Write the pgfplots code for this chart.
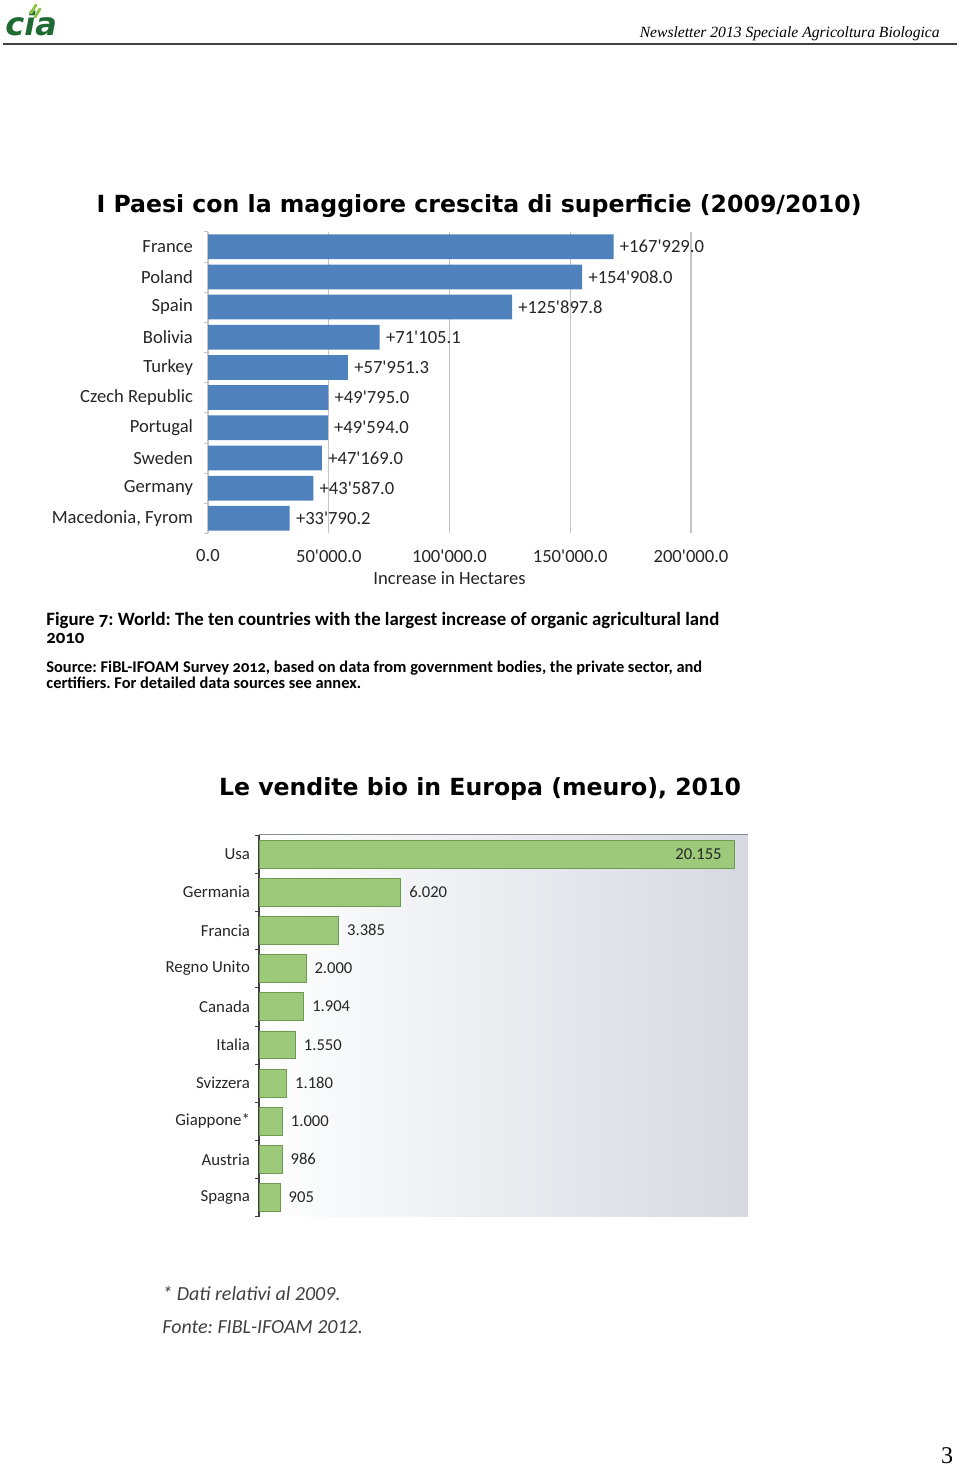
\documentclass[border=0pt]{standalone}
\usepackage{pgfplots}
\pgfplotsset{compat=1.18}
\usepackage{pgfplotstable}
\usepackage{fontspec}
\setmainfont{Carlito}
\newfontfamily\titlefont{DejaVu Sans}
\newfontfamily\seriffont{Liberation Serif}
\newfontfamily\capfont[Numbers=OldStyle]{Carlito}
\newcommand{\q}{\textquotesingle}
\frenchspacing

\definecolor{barblue}{HTML}{4F81BD}
\definecolor{gridgray}{HTML}{C4C4C4}
\definecolor{bargreen}{HTML}{9CC97A}
\definecolor{bargreenedge}{HTML}{6E9A52}
\definecolor{panelgray}{HTML}{D6D9E1}
\definecolor{logogreen}{HTML}{1F6A32}
\definecolor{leafgreen}{HTML}{8CC63F}

% increase of organic land, 2009/2010 (pos 0 = bottom)
\pgfplotstableread{
pos val lab
9 167929.0 {+167\q929.0}
8 154908.0 {+154\q908.0}
7 125897.8 {+125\q897.8}
6 71105.1 {+71\q105.1}
5 57951.3 {+57\q951.3}
4 49795.0 {+49\q795.0}
3 49594.0 {+49\q594.0}
2 47169.0 {+47\q169.0}
1 43587.0 {+43\q587.0}
0 33790.2 {+33\q790.2}
}\superficie

% organic sales, million euro, 2010
\pgfplotstableread{
pos val lab
8 6020 {6.020}
7 3385 {3.385}
6 2000 {2.000}
5 1904 {1.904}
4 1550 {1.550}
3 1180 {1.180}
2 1000 {1.000}
1 986 {986}
0 905 {905}
}\vendite
\pgfplotstableread{
pos val lab
9 20155 {20.155}
}\venditeusa

\begin{document}
\begin{tikzpicture}[x=0.5pt,y=-0.5pt]
\path[use as bounding box] (0,0) rectangle (960,1467);

% header
\node[font=\titlefont\bfseries\itshape\fontsize{16}{16}\selectfont, text=logogreen, anchor=west, inner sep=0pt] at (5,24) {cia};
\draw[leafgreen, line width=1.4pt, line cap=round] (31,13) -- (36,5) (35,17) -- (40,9);
\node[font=\seriffont\itshape\fontsize{7.8}{8}\selectfont, anchor=base east, inner sep=0pt] at (940,37) {Newsletter 2013 Speciale Agricoltura Biologica};
\draw[line width=0.7pt, black!75] (3,44) -- (957,44);

% titles
\node[font=\titlefont\bfseries\fontsize{11.8}{12}\selectfont] at (479,206) {I Paesi con la maggiore crescita di superficie (2009/2010)};
\node[font=\titlefont\bfseries\fontsize{11.8}{12}\selectfont] at (480,789) {Le vendite bio in Europa (meuro), 2010};

% chart 1
\begin{axis}[
  at={(104pt,-266.7pt)}, anchor=south west,
  scale only axis, width=241.5pt, height=150.9pt,
  xbar, bar width=0.82, bar shift=0pt,
  xmin=0, xmax=200000, ymin=-0.5, ymax=9.5,
  enlargelimits=false, clip=false, scaled x ticks=false,
  axis lines*=left,
  x axis line style={draw=none},
  y axis line style={gridgray, line width=0.6pt},
  xtick={0,50000,100000,150000,200000},
  xticklabels={0.0,50\q000.0,100\q000.0,150\q000.0,200\q000.0},
  xmajorgrids, grid style={gridgray, line width=0.6pt},
  ytick={0,...,9},
  yticklabels={{Macedonia, Fyrom},Germany,Sweden,Portugal,{Czech Republic},Turkey,Bolivia,Spain,Poland,France},
  minor ytick={-0.5,0.5,...,9.5},
  major tick length=0pt, minor tick length=2pt,
  tick align=outside, minor tick style={gridgray},
  ticklabel style={font=\fontsize{9.3}{10}\selectfont, text=black!85},
  yticklabel style={xshift=-4pt},
  xticklabel style={yshift=-4.5pt},
  xlabel={Increase in Hectares},
  xlabel style={font=\fontsize{9.3}{10}\selectfont, text=black!85, yshift=2pt},
  nodes near coords, point meta=explicit symbolic,
  nodes near coords style={font=\fontsize{9.3}{10}\selectfont, text=black!85, anchor=west, inner sep=3pt},
]
\addplot[fill=barblue, draw=none] table[x=val, y=pos, meta=lab] {\superficie};
\end{axis}

% caption
\node[font=\capfont\bfseries\fontsize{9.4}{9}\selectfont, anchor=base west, inner sep=0pt] at (46,625) {Figure 7: World: The ten countries with the largest increase of organic agricultural land};
\node[font=\capfont\bfseries\fontsize{9.4}{9}\selectfont, anchor=base west, inner sep=0pt] at (46,643) {2010};
\node[font=\capfont\bfseries\fontsize{8.2}{8}\selectfont, anchor=base west, inner sep=0pt] at (46,672) {Source: FiBL-IFOAM Survey 2012, based on data from government bodies, the private sector, and};
\node[font=\capfont\bfseries\fontsize{8.2}{8}\selectfont, anchor=base west, inner sep=0pt] at (46,688) {certifiers. For detailed data sources see annex.};

% chart 2
\begin{axis}[
  at={(129.5pt,-608.3pt)}, anchor=south west,
  scale only axis, width=244.3pt, height=190.85pt,
  xbar, bar width=0.73, bar shift=0pt,
  xmin=0, xmax=20730, ymin=-0.5, ymax=9.5,
  enlargelimits=false, clip=false,
  axis background/.style={shade, left color=white, middle color=white!80!panelgray, right color=panelgray},
  axis y line*=left, axis x line*=top,
  y axis line style={black!75, line width=0.7pt},
  x axis line style={black!45, line width=0.6pt},
  xtick=\empty,
  ytick={0,...,9},
  yticklabels={Spagna,Austria,Giappone*,Svizzera,Italia,Canada,{Regno Unito},Francia,Germania,Usa},
  minor ytick={-0.5,0.5,...,9.5},
  major tick length=0pt, minor tick length=2pt,
  tick align=outside, minor tick style={black!75},
  yticklabel style={font=\fontsize{8.4}{9}\selectfont, text=black!85, xshift=-1pt},
  nodes near coords, point meta=explicit symbolic,
  nodes near coords style={font=\fontsize{8.3}{9}\selectfont, text=black!85, anchor=west, inner sep=4pt},
]
\addplot[fill=bargreen, draw=bargreenedge, line width=0.4pt] table[x=val, y=pos, meta=lab] {\vendite};
\addplot[fill=bargreen, draw=bargreenedge, line width=0.4pt,
  nodes near coords style={anchor=east, inner sep=6pt}] table[x=val, y=pos, meta=lab] {\venditeusa};
\end{axis}

% notes
\node[font=\itshape\fontsize{10}{10}\selectfont, text=black!75, anchor=base west, inner sep=0pt] at (162,1300) {* Dati relativi al 2009.};
\node[font=\itshape\fontsize{10}{10}\selectfont, text=black!75, anchor=base west, inner sep=0pt] at (162,1333) {Fonte: FIBL-IFOAM 2012.};

\node[font=\seriffont\fontsize{12}{12}\selectfont, anchor=base] at (947,1463) {3};
\end{tikzpicture}
\end{document}
